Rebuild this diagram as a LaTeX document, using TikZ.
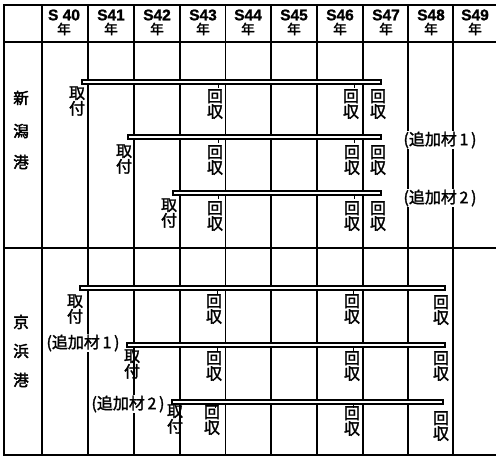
\documentclass[tikz,border=0pt]{standalone}
\usepackage{fontspec}
\newfontfamily\jp[FakeBold=1.8]{Noto Sans CJK JP}
\newfontfamily\jpb[FakeBold=2.6]{Noto Sans CJK JP}
\newfontfamily\hdlat[FakeBold=1.2]{Liberation Sans Bold}
\begin{document}
\begin{tikzpicture}[x=1pt,y=-1pt,
  grid/.style={line width=1.5pt},
  frame/.style={line width=1.9pt},
  bar/.style={draw,fill=white,line width=1.2pt},
  tick/.style={line width=1pt},
  hd/.style={font=\hdlat\fontsize{15.5}{15.5}\selectfont,inner sep=0pt},
  hdy/.style={font=\jpb\fontsize{13.5}{13.5}\selectfont,inner sep=0pt},
  vlab/.style={font=\jp\fontsize{16}{14.5}\selectfont,align=center,inner sep=0pt},
  plab/.style={font=\jpb\fontsize{15.5}{15.5}\selectfont,inner sep=0pt},
  note/.style={font=\jp\fontsize{16}{16}\selectfont,inner sep=1pt,fill=white}]
\useasboundingbox (0,0) rectangle (496,458);
% grid
\foreach \x in {42,88,134,180,225.5,271,317,363,408,453}
  \draw[grid] (\x,5) -- (\x,455);
\draw[frame] (4,5) -- (496,5);
\draw[frame] (4,4) -- (4,456);
\draw[frame] (4,455) -- (496,455);
\draw[grid] (4,42) -- (496,42);
\draw[grid] (4,248) -- (496,248);
% headers
\foreach \c/\t [count=\i] in {64/S 40,111/S41,157/S42,203/S43,248/S44,294/S45,340/S46,386/S47,431/S48,475/S49}{
  \node[hd] (h\i) at (\c,15) {\t};
  \node[hdy] (y\i) at (\c,29) {年};
}
% port labels
\node[plab] (n1) at (21,98) {新};
\node[plab] (n2) at (21,131) {潟};
\node[plab] (n3) at (21,162) {港};
\node[plab] (k1) at (21,322) {京};
\node[plab] (k2) at (21,351) {浜};
\node[plab] (k3) at (21,380) {港};
% ---- Niigata ----
% bar A
\draw[bar] (82,80) rectangle (381,84);
\draw[tick] (218,84) -- (218,88);
\draw[tick] (354,84) -- (354,88);
\node[vlab] (aT) at (77,101) {取\\付};
\node[vlab] (aR1) at (215,104) {回\\収};
\node[vlab] (aR2) at (351,104) {回\\収};
\node[vlab] (aR3) at (378,104) {回\\収};
% bar B
\draw[bar] (128,135) rectangle (381,139);
\draw[tick] (218,139) -- (218,143);
\draw[tick] (354,139) -- (354,143);
\node[vlab] (bT) at (124,159) {取\\付};
\node[vlab] (bR1) at (215,160) {回\\収};
\node[vlab] (bR2) at (352,160) {回\\収};
\node[vlab] (bR3) at (378,160) {回\\収};
\node[note] (bN) at (440,140) {(追加材\,1\,)};
% bar C
\draw[bar] (173,191) rectangle (381,195);
\draw[tick] (218,195) -- (218,199);
\draw[tick] (354,195) -- (354,199);
\node[vlab] (cT) at (169,213) {取\\付};
\node[vlab] (cR1) at (215,216) {回\\収};
\node[vlab] (cR2) at (352,216) {回\\収};
\node[vlab] (cR3) at (378,216) {回\\収};
\node[note] (cN) at (440,198) {(追加材\,2\,)};
% ---- Keihin ----
% bar D
\draw[bar] (80,286) rectangle (445,290);
\draw[tick] (217,290) -- (217,294);
\draw[tick] (353,290) -- (353,294);
\node[vlab] (dT) at (75,309) {取\\付};
\node[vlab] (dR1) at (214,309) {回\\収};
\node[vlab] (dR2) at (352,309) {回\\収};
\node[vlab] (dR3) at (441,310) {回\\収};
% bar E
\draw[bar] (127,343) rectangle (445,347);
\draw[tick] (217,347) -- (217,351);
\draw[tick] (353,347) -- (353,351);
\node[vlab] (eT) at (132,364) {取\\付};
\node[vlab] (eR1) at (214,366) {回\\収};
\node[vlab] (eR2) at (352,366) {回\\収};
\node[vlab] (eR3) at (441,366) {回\\収};
\node[note] (eN) at (83,343) {(追加材\,1\,)};
% bar F
\draw[bar] (172,400) rectangle (443,404);
\draw[tick] (215,404) -- (215,408);
\draw[tick] (353,404) -- (353,408);
\node[vlab] (fT) at (175,419) {取\\付};
\node[vlab] (fR1) at (212,420) {回\\収};
\node[vlab] (fR2) at (352,421) {回\\収};
\node[vlab] (fR3) at (441,426) {回\\収};
\node[note] (fN) at (128,404) {(追加材\,2\,)};
\end{tikzpicture}
\end{document}
